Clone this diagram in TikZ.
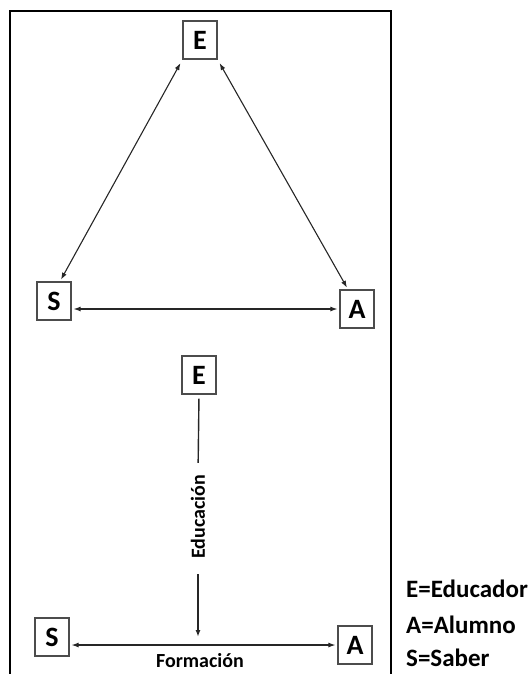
\documentclass[tikz,border=0pt]{standalone}
\usepackage{fontspec}
\setmainfont{Carlito}
\usetikzlibrary{arrows.meta}
\tikzset{
  letra/.style={draw=black!70, line width=1.2pt, fill=white, minimum width=34pt, minimum height=38pt, inner sep=0pt, font=\fontsize{28}{30}\selectfont\bfseries},
  flecha/.style={black!85, line width=1.1pt},
  punta/.style={-{Latex[length=7pt,width=5pt]}},
  doble/.style={{Latex[length=7pt,width=5pt]}-{Latex[length=7pt,width=5pt]}},
  rotulo/.style={inner sep=0pt, font=\fontsize{20}{22}\selectfont\bfseries},
  leyenda/.style={anchor=west, inner sep=0pt, font=\fontsize{25}{27}\selectfont\bfseries}
}
\begin{document}
\begin{tikzpicture}[x=1pt,y=-1pt]
\useasboundingbox (0,0) rectangle (532,674);
% marco
\draw[line width=2pt] (10,674) -- (10,11) -- (391,11) -- (391,674);
% triangulo
\node[letra] (E1) at (200,40) {E};
\node[letra] (S1) at (54,301) {S};
\node[letra] (A1) at (357,309) {A};
\draw[flecha, doble, shorten <=4pt, shorten >=2pt] (E1.south west) -- ([xshift=6pt]S1.north);
\draw[flecha, doble, shorten <=4pt, shorten >=2pt] (E1.south east) -- ([xshift=-9pt]A1.north);
\draw[flecha, doble, shorten <=2pt, shorten >=2pt] (S1.east |- A1.west) -- (A1.west);
% educacion y formacion
\node[letra] (E2) at (199,375) {E};
\node[letra] (S2) at (52,637) {S};
\node[letra] (A2) at (355,645) {A};
\node[rotulo, rotate=90] (edu) at (198,517) {Educación};
\coordinate (F) at (198,645);
\draw[flecha, line width=1.4pt, shorten <=4pt, shorten >=12pt] (E2.south) -- (edu.east);
\draw[flecha, line width=1.4pt, punta, shorten <=15pt, shorten >=8pt] (edu.west) -- (F);
\draw[flecha, doble, shorten <=2pt, shorten >=2pt] (S2.east |- A2.west) -- (A2.west);
\node[rotulo] (form) at (200,661) {Formación};
% leyenda
\node[leyenda] (le) at (406,589) {E=Educador};
\node[leyenda] (la) at (406,625) {A=Alumno};
\node[leyenda] (ls) at (406,658) {S=Saber};
\end{tikzpicture}
\end{document}
